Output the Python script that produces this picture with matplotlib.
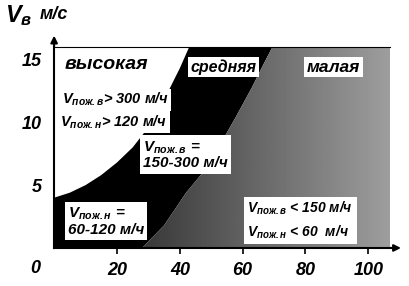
import numpy as np
import matplotlib
matplotlib.use("Agg")
from matplotlib import pyplot as plt
from matplotlib.patches import Polygon

plt.rcParams['font.family'] = ['Liberation Sans', 'DejaVu Sans']
plt.rcParams['mathtext.fontset'] = 'custom'
plt.rcParams['mathtext.rm'] = 'Liberation Sans:bold:italic'
plt.rcParams['mathtext.it'] = 'Liberation Sans:bold:italic'
plt.rcParams['mathtext.bf'] = 'Liberation Sans:bold:italic'

# boundary between "высокая" (white) and "средняя" (black)
x_upper = [0, 5, 10, 15, 20, 25, 30, 35, 40, 43]
y_upper = [4.0, 4.4, 5.0, 5.8, 6.8, 8.0, 9.6, 11.8, 14.3, 16.0]
# boundary between "средняя" (black) and "малая" (grey)
x_lower = [28, 35, 42, 49, 53, 58, 63, 67, 69.5]
y_lower = [0, 1.8, 4.4, 6.5, 8.3, 10.5, 12.8, 14.8, 16.0]

x_max = 107
y_max = 16
x_ticks = [20, 40, 60, 80, 100]
y_ticks = [5, 10, 15]

fig = plt.figure(figsize=(4.1, 2.86), dpi=100)
ax = fig.add_axes([0.132, 0.133, 0.820, 0.703])
ax.set_xlim(0, x_max)
ax.set_ylim(0, y_max)

# black zone
black_pts = list(zip(x_upper, y_upper)) + list(zip(x_lower[::-1], y_lower[::-1])) + [(0, 0)]
ax.add_patch(Polygon(black_pts, closed=True, facecolor='black', edgecolor='none', zorder=1))

# grey zone with a soft gradient, clipped to its polygon
grey_pts = list(zip(x_lower, y_lower)) + [(x_max, y_max), (x_max, 0)]
grey_poly = Polygon(grey_pts, closed=True, facecolor='none', edgecolor='none')
ax.add_patch(grey_poly)
grad = np.linspace(0.22, 0.62, 200).reshape(1, -1)
img = ax.imshow(grad, extent=[x_lower[0], x_max, 0, y_max], aspect='auto',
                cmap='gray', vmin=0, vmax=1, zorder=1, interpolation='bilinear')
img.set_clip_path(grey_poly)

bold_it = dict(fontweight='bold', fontstyle='italic')
box = dict(boxstyle='square,pad=0.15', facecolor='white', edgecolor='none')

ax.text(3.5, 14.6, 'высокая', fontsize=14, va='center', ha='left', zorder=3, **bold_it)
ax.text(54, 14.4, 'средняя', fontsize=11.5, va='center', ha='center', bbox=box, zorder=3, **bold_it)
ax.text(89, 14.4, 'малая', fontsize=12.5, va='center', ha='center', bbox=box, zorder=3, **bold_it)

ax.text(2.5, 11.8, r'$V_{пож.в}$> 300 м/ч', fontsize=10.5, va='center', ha='left',
        bbox=box, zorder=3, **bold_it)
ax.text(2.0, 10.0, r'$V_{пож.н}$> 120 м/ч', fontsize=10.5, va='center', ha='left',
        bbox=box, zorder=3, **bold_it)
ax.text(28.3, 7.4, '$V_{пож.в}$ =\n150-300 м/ч', fontsize=11, va='center', ha='left',
        bbox=dict(boxstyle='square,pad=0.2', facecolor='white', edgecolor='none'),
        linespacing=1.05, zorder=3, **bold_it)
ax.text(4.3, 2.1, '$V_{пож.н}$ =\n60-120 м/ч', fontsize=11, va='center', ha='left',
        bbox=dict(boxstyle='square,pad=0.2', facecolor='white', edgecolor='none'),
        linespacing=1.05, zorder=3, **bold_it)
ax.text(61.5, 2.2, '$V_{пож.в}$ < 150 м/ч\n$V_{пож.н}$ < 60  м/ч', fontsize=10, va='center', ha='left',
        bbox=dict(boxstyle='square,pad=0.25', facecolor='white', edgecolor='none'),
        linespacing=1.45, zorder=3, **bold_it)

# axes and arrows
ax.spines['right'].set_visible(False)
ax.spines['top'].set_linewidth(0.8)
ax.spines['left'].set_linewidth(1.5)
ax.spines['bottom'].set_linewidth(1.5)
ax.annotate('', xy=(0, 1.07), xytext=(0, 0.99), xycoords='axes fraction',
            arrowprops=dict(arrowstyle='-|>', color='black', lw=1.5, mutation_scale=10),
            annotation_clip=False)
ax.annotate('', xy=(1.04, 0), xytext=(0.99, 0), xycoords='axes fraction',
            arrowprops=dict(arrowstyle='-|>', color='black', lw=1.5, mutation_scale=10),
            annotation_clip=False)

ax.set_xticks(x_ticks)
ax.set_xticklabels([str(t) for t in x_ticks], fontsize=13, **bold_it)
ax.set_yticks(y_ticks)
ax.set_yticklabels([str(t) for t in y_ticks], fontsize=13, **bold_it)
ax.tick_params(axis='x', direction='out', length=4, width=1.2, pad=6)
ax.tick_params(axis='y', length=0, pad=9)
ax.text(-6, -1.6, '0', fontsize=13, ha='center', va='center', **bold_it)

# axis title
fig.text(0.012, 0.945, '$V_{в}$', fontsize=17, ha='left', va='center', **bold_it)
fig.text(0.098, 0.95, 'м/с', fontsize=13, ha='left', va='center', **bold_it)

fig.savefig('out.png', dpi=100)
